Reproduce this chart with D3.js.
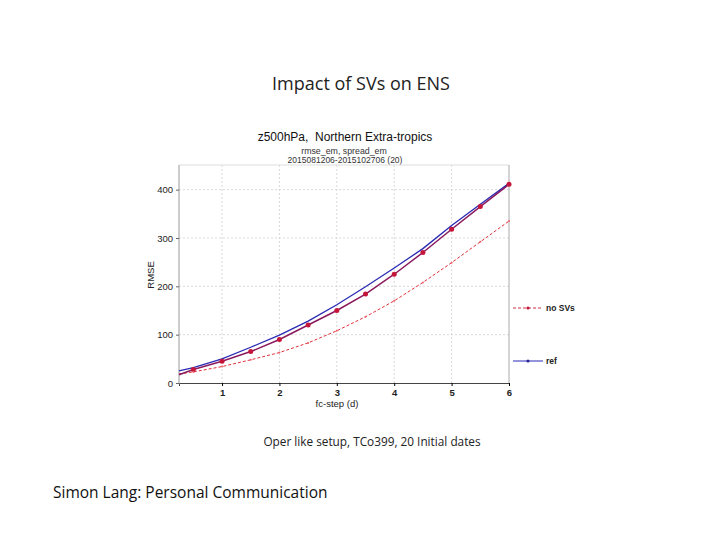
<!DOCTYPE html>
<html lang="en">
<head>
  <meta charset="UTF-8">
  <title>Impact of SVs on ENS</title>
  <script src="https://cdnjs.cloudflare.com/ajax/libs/d3/7.8.5/d3.min.js"></script>
  <style>
    body { margin: 0; background: #fff; }
    svg text { font-family: "Liberation Sans", Arial, sans-serif; }
  </style>
</head>
<body>
  <script>
    // data
    const steps = [0.25, 0.5, 1, 1.5, 2, 2.5, 3, 3.5, 4, 4.5, 5, 5.5, 6];
    const rmseNoSVs = [17, 28, 45, 65, 90, 120, 150, 184, 225, 270, 318, 365, 411];
    const rmseRef = [25, 32, 50, 74, 99, 128, 162, 199, 238, 278, 326, 370, 413];
    const spreadNoSVs = [19, 23, 34, 48, 63, 83, 108, 137, 170, 208, 249, 292, 335];
    const xTicks = [1, 2, 3, 4, 5, 6];
    const yTicks = [0, 100, 200, 300, 400];
    const legendNames = ['no SVs', 'ref'];

    const width = 720, height = 540;
    const svg = d3.select('body').append('svg')
      .attr('width', width).attr('height', height);

    // plot box
    const pLeft = 179, pRight = 509, pTop = 165, pBottom = 383;
    const x = d3.scaleLinear().domain([0.25, 6]).range([pLeft, pRight]);
    const y = d3.scaleLinear().domain([0, 451]).range([pBottom, pTop]);

    // slide title
    svg.append('text').attr('x', 361).attr('y', 90).attr('text-anchor', 'middle')
      .style('font-family', '"Open Sans", sans-serif').attr('font-size', 18).attr('fill', '#222')
      .text('Impact of SVs on ENS');

    // chart titles
    svg.append('text').attr('x', 345).attr('y', 141).attr('text-anchor', 'middle')
      .attr('font-size', 12).attr('fill', '#111').style('white-space', 'pre')
      .text('z500hPa,  Northern Extra-tropics');
    svg.append('text').attr('x', 344).attr('y', 153.5).attr('text-anchor', 'middle')
      .attr('font-size', 8.8).attr('fill', '#333').text('rmse_em, spread_em');
    svg.append('text').attr('x', 345).attr('y', 162.5).attr('text-anchor', 'middle')
      .attr('font-size', 8.5).attr('fill', '#333').text('2015081206-2015102706 (20)');

    // grid
    svg.append('g').selectAll('line').data(yTicks.slice(1)).join('line')
      .attr('x1', pLeft).attr('x2', pRight).attr('y1', d => y(d)).attr('y2', d => y(d))
      .attr('stroke', '#cfcfcf').attr('stroke-dasharray', '2,2').attr('stroke-width', 0.8);
    svg.append('g').selectAll('line').data(xTicks.slice(0, -1)).join('line')
      .attr('x1', d => x(d)).attr('x2', d => x(d)).attr('y1', pTop).attr('y2', pBottom)
      .attr('stroke', '#cfcfcf').attr('stroke-dasharray', '2,2').attr('stroke-width', 0.8);

    // frame
    svg.append('line').attr('x1', pLeft).attr('x2', pRight).attr('y1', pTop).attr('y2', pTop)
      .attr('stroke', '#ddd');
    svg.append('line').attr('x1', pRight).attr('x2', pRight).attr('y1', pTop).attr('y2', pBottom)
      .attr('stroke', '#aaa');
    svg.append('line').attr('x1', pLeft).attr('x2', pLeft).attr('y1', pTop).attr('y2', pBottom)
      .attr('stroke', '#999');

    // axes
    const xAxis = svg.append('g').attr('transform', `translate(0,${pBottom})`)
      .call(d3.axisBottom(x).tickValues(xTicks).tickSize(3).tickFormat(d3.format('d')));
    xAxis.select('.domain').attr('stroke', '#444');
    xAxis.selectAll('text').attr('font-size', 9.5).attr('font-weight', 'bold').attr('fill', '#222');

    const yAxis = svg.append('g').attr('transform', `translate(${pLeft},0)`)
      .call(d3.axisLeft(y).tickValues(yTicks).tickSize(3));
    yAxis.select('.domain').remove();
    yAxis.selectAll('line').attr('stroke', '#666');
    yAxis.selectAll('text').attr('font-size', 9.5).attr('fill', '#222');

    svg.append('text').attr('x', 337).attr('y', 407).attr('text-anchor', 'middle')
      .attr('font-size', 9.5).attr('fill', '#222').text('fc-step (d)');
    svg.append('text').attr('transform', 'translate(154,275) rotate(-90)')
      .attr('text-anchor', 'middle').attr('font-size', 9.5).attr('fill', '#222').text('RMSE');

    // lines
    const line = d3.line().x((d, i) => x(steps[i])).y(d => y(d));

    svg.append('path').datum(spreadNoSVs).attr('d', line)
      .attr('fill', 'none').attr('stroke', '#e0303a').attr('stroke-width', 1)
      .attr('stroke-dasharray', '3,2');
    svg.append('path').datum(rmseRef).attr('d', line)
      .attr('fill', 'none').attr('stroke', '#2a2ab4').attr('stroke-width', 1.3);
    svg.append('path').datum(rmseNoSVs).attr('d', line)
      .attr('fill', 'none').attr('stroke', '#8a1a5e').attr('stroke-width', 1.5);

    // markers on every half day
    const marked = steps.map((s, i) => i).filter(i => steps[i] >= 0.5);
    svg.append('g').selectAll('circle').data(marked).join('circle')
      .attr('cx', i => x(steps[i])).attr('cy', i => y(rmseNoSVs[i])).attr('r', 2.5)
      .attr('fill', '#c4163a');
    svg.append('g').selectAll('circle').data(marked).join('circle')
      .attr('cx', i => x(steps[i])).attr('cy', i => y(spreadNoSVs[i])).attr('r', 1)
      .attr('fill', '#f06070');

    // legend
    const leg = svg.append('g');
    leg.append('line').attr('x1', 513).attr('x2', 543).attr('y1', 308).attr('y2', 308)
      .attr('stroke', '#d03040').attr('stroke-dasharray', '3,2');
    leg.append('circle').attr('cx', 528).attr('cy', 308).attr('r', 1.6).attr('fill', '#c4163a');
    leg.append('text').attr('x', 546).attr('y', 311).attr('font-size', 8.5).attr('font-weight', 'bold')
      .attr('fill', '#222').text(legendNames[0]);
    leg.append('line').attr('x1', 513).attr('x2', 543).attr('y1', 361).attr('y2', 361)
      .attr('stroke', '#7070d0').attr('stroke-width', 1.5);
    leg.append('circle').attr('cx', 528).attr('cy', 361).attr('r', 1.6).attr('fill', '#2a2a9a');
    leg.append('text').attr('x', 546).attr('y', 364).attr('font-size', 8.5).attr('font-weight', 'bold')
      .attr('fill', '#222').text(legendNames[1]);

    // footer texts
    svg.append('text').attr('x', 372).attr('y', 446).attr('text-anchor', 'middle')
      .style('font-family', '"Open Sans", sans-serif').attr('font-size', 11.8).attr('fill', '#222')
      .text('Oper like setup, TCo399, 20 Initial dates');
    svg.append('text').attr('x', 53).attr('y', 498)
      .style('font-family', '"Open Sans", sans-serif').attr('font-size', 15.5).attr('fill', '#111')
      .text('Simon Lang: Personal Communication');
  </script>
</body>
</html>
